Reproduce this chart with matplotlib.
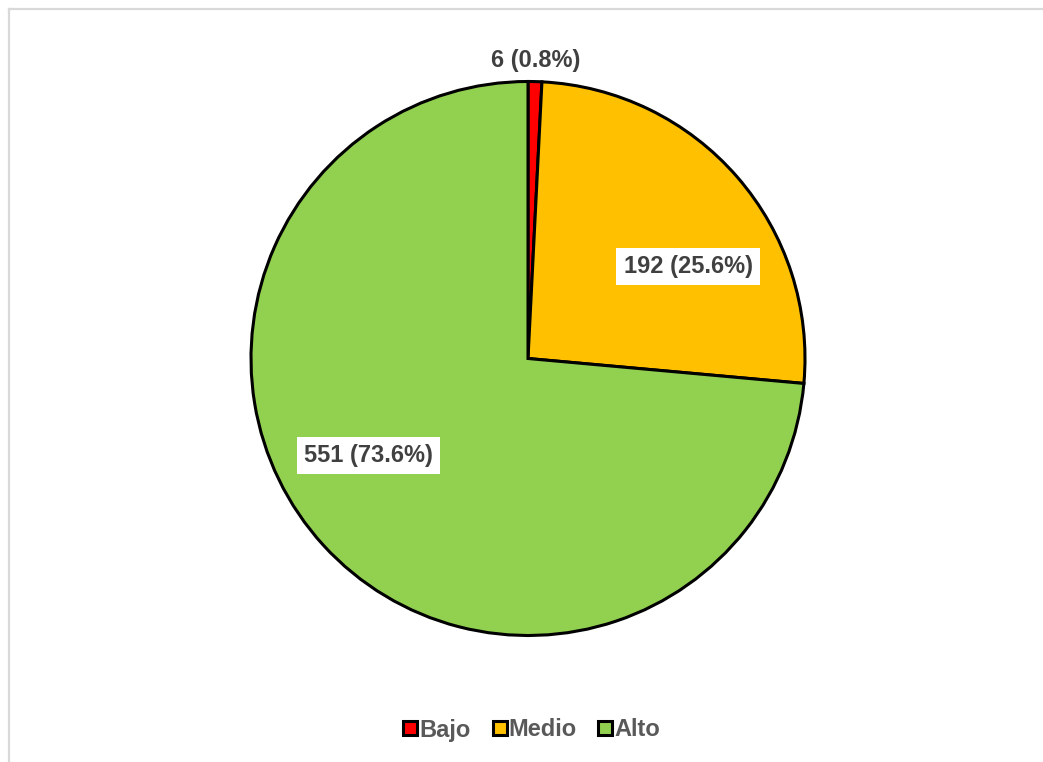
import numpy as np
import matplotlib
matplotlib.use("Agg")
import matplotlib.pyplot as plt
from matplotlib.lines import Line2D

plt.rcParams['font.family'] = ['Liberation Sans', 'DejaVu Sans']
plt.rcParams['font.weight'] = 'bold'

# Nivel data
categories = ['Bajo', 'Medio', 'Alto']
counts = [6, 192, 551]
colors = ['#FF0000', '#FFC000', '#92D050']

W, H = 1043, 762
fig = plt.figure(figsize=(W / 100, H / 100), dpi=100)

# light grey chart border (left and top visible)
fig.add_artist(Line2D([9 / W, 9 / W], [0, 1 - 9 / H], color='#D9D9D9', lw=1.6,
                      transform=fig.transFigure))
fig.add_artist(Line2D([9 / W, 1], [1 - 9 / H, 1 - 9 / H], color='#D9D9D9', lw=1.6,
                      transform=fig.transFigure))

# pie axes: centre (528, 358.5) px, radius 277 px
cx, cy, r = 528, 358.5, 277
ax = fig.add_axes([(cx - r) / W, 1 - (cy + r) / H, 2 * r / W, 2 * r / H])
wedges, _ = ax.pie(counts, colors=colors, startangle=90, counterclock=False,
                   radius=1.0,
                   wedgeprops=dict(edgecolor='black', linewidth=2.2))
ax.set_xlim(-1, 1)
ax.set_ylim(-1, 1)
ax.set_aspect('equal')
ax.axis('off')

total = sum(counts)
# label placement: (radius fraction, angle shift in degrees, inside box)
placement = [(1.075, 0, False), (0.667, -11, True), (0.673, -11, True)]
for w, n, (rf, shift, boxed) in zip(wedges, counts, placement):
    mid = np.deg2rad((w.theta1 + w.theta2) / 2 + shift)
    x, y = rf * np.cos(mid), rf * np.sin(mid)
    txt = f"{n} ({n / total * 100:.1f}%)"
    bbox = dict(boxstyle='square,pad=0.3', fc='white', ec='none') if boxed else None
    ax.text(x, y, txt, ha='center', va='center', fontsize=17, fontweight='bold',
            color='#404040', bbox=bbox, clip_on=False)

handles = [Line2D([], [], marker='s', linestyle='none', markersize=9.5,
                  markerfacecolor=c, markeredgecolor='black', markeredgewidth=2.2)
           for c in colors]
leg = fig.legend(handles, categories, loc='center', ncol=3,
                 bbox_to_anchor=(532 / W, 1 - 730 / H), frameon=False,
                 handlelength=0.55, handletextpad=0.1, columnspacing=0.95,
                 prop=dict(size=17, weight='bold'))
for t in leg.get_texts():
    t.set_color('#595959')

fig.savefig('out.png', dpi=100)
